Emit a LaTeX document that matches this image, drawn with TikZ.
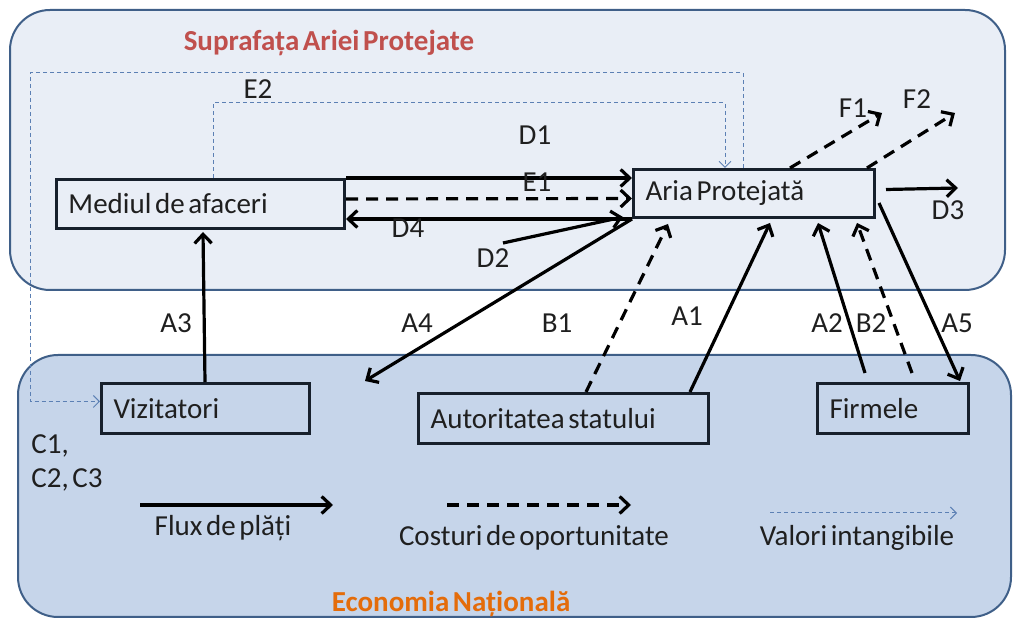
\documentclass[tikz,border=0pt]{standalone}
\usepackage{fontspec}
\setmainfont{Carlito}[WordSpace=0.55]
\usepackage{tikz}
\usetikzlibrary{positioning,arrows.meta,calc}
\usepackage{xcolor}
\definecolor{zoneTop}{HTML}{E9EEF6}
\definecolor{zoneBot}{HTML}{C6D5EA}
\definecolor{zoneLine}{HTML}{3F5F88}
\definecolor{titleRed}{HTML}{C0504D}
\definecolor{titleOrange}{HTML}{E46C0A}
\definecolor{intangBlue}{HTML}{5C80B4}
\definecolor{boxLine}{HTML}{17202C}

\begin{document}
\begin{tikzpicture}[
  x=0.5pt, y=-0.5pt,
  every node/.style = {font=\fontsize{14.5}{17}\selectfont, text=black!88},
  zone/.style = {draw=zoneLine, line width=1pt, rounded corners=20pt},
  actor/.style = {draw=boxLine, line width=1.5pt, anchor=north west,
    inner xsep=6pt, text width=#1, align=flush left, minimum height=24.5pt},
  pay/.style = {line width=1.6pt, -{Straight Barb[length=4.5pt,width=8.5pt]}},
  opp/.style = {pay, dash pattern=on 6pt off 4pt},
  intang/.style = {draw=intangBlue, line width=0.5pt, dash pattern=on 2pt off 1.5pt,
    -{Straight Barb[length=3pt,width=6pt]}},
  lbl/.style = {inner sep=1pt}
]
  \useasboundingbox (0,0) rectangle (1013,619);

  % zones
  \draw[zone, fill=zoneTop] (10,10) rectangle (1005,290);
  \draw[zone, fill=zoneBot] (18,355) rectangle (1011,617);
  \node[font=\fontsize{14.5}{17}\selectfont\bfseries, text=titleRed] (ztop) at (329,43) {Suprafața Ariei Protejate};
  \node[font=\fontsize{14.5}{17}\selectfont\bfseries, text=titleOrange] (zbot) at (451,604) {Economia Națională};

  % actors
  \node[actor=132pt] (mediul) at (55,178) {Mediul de afaceri};
  \node[actor=108.5pt, minimum height=24pt] (aria) at (632,168) {Aria Protejată};
  \node[actor=92pt, minimum height=25pt] (viz) at (100,382) {Vizitatori};
  \node[actor=133pt, minimum height=25pt] (auto) at (417,392) {Autoritatea statului};
  \node[actor=63.5pt, minimum height=25pt] (firm) at (816,382) {Firmele};

  % flows inside the protected area
  \draw[pay] (mediul.north east) -- (mediul.north east -| aria.west);
  \draw[opp] ($(mediul.east)+(0,-5)$) -- ($(aria.west)+(0,5)$);
  \draw[pay] (aria.south west) -- (aria.south west -| mediul.east);
  \coordinate (d2) at (503,243);
  \draw[pay] (d2) -- ($(aria.south west)+(-9,-2)$);
  \coordinate (d3) at (958,188);
  \draw[pay] ($(aria.east)+(10,-4)$) -- (d3);
  \coordinate (f1) at (882,113);
  \coordinate (f2) at (955,113);
  \draw[opp] ($(aria.north west)+(158,0)$) -- (f1);
  \draw[opp] ($(aria.north west)+(235,0)$) -- (f2);
  \draw[intang] ($(mediul.north west)+(158,0)$) -- ++(0,-75) -| ($(aria.north west)+(93,0)$);
  \coordinate (cbend) at (30,73);
  \draw[intang] ($(aria.north west)+(111,0)$) |- (cbend) |- ($(viz.west)+(0,-7)$);

  % flows between the two zones
  \draw[pay] ($(viz.north west)+(105,0)$) -- ($(mediul.south west)+(148,2)$);
  \coordinate (a4) at (365,381);
  \draw[pay] (aria.south west) -- (a4);
  \draw[opp] ($(auto.north west)+(169,0)$) -- ($(aria.south west)+(36,5)$);
  \draw[pay] ($(auto.north west)+(273,0)$) -- ($(aria.south west)+(138,4)$);
  \draw[pay] ($(firm.north west)+(49,-9)$) -- ($(aria.south west)+(186,4)$);
  \draw[opp] ($(firm.north west)+(96,-9)$) -- ($(aria.south west)+(225,4)$);
  \draw[pay] ($(aria.south east)+(3,-16)$) -- ($(firm.north east)+(-10,-1)$);

  % labels
  \node[lbl] (lE2) at (258,89) {E2};
  \node[lbl] (lD1) at (535,135) {D1};
  \node[lbl] (lE1) at (537,182) {E1};
  \node[lbl] (lD4) at (408,228) {D4};
  \node[lbl] (lD2) at (493,258) {D2};
  \node[lbl] (lF1) at (853,108) {F1};
  \node[lbl] (lF2) at (917,99) {F2};
  \node[lbl] (lD3) at (948,210) {D3};
  \node[lbl] (lA3) at (176,323) {A3};
  \node[lbl] (lA4) at (417,323) {A4};
  \node[lbl] (lB1) at (557,323) {B1};
  \node[lbl] (lA1) at (687,316) {A1};
  \node[lbl] (lA2) at (827,323) {A2};
  \node[lbl] (lB2) at (871,323) {B2};
  \node[lbl] (lA5) at (957,323) {A5};
  \node[lbl, align=left, anchor=north west] (lC) at (29,432) {C1,\\C2, C3};

  % legend
  \coordinate (l1a) at (140,505);
  \coordinate (l1b) at (333,505);
  \draw[pay] (l1a) -- (l1b);
  \node (lgpay) at (223,528) {Flux de plăți};
  \coordinate (l2a) at (447,505);
  \coordinate (l2b) at (631,505);
  \draw[opp] (l2a) -- (l2b);
  \node (lgopp) at (534,538) {Costuri de oportunitate};
  \coordinate (l3a) at (770,513);
  \coordinate (l3b) at (957,513);
  \draw[intang] (l3a) -- (l3b);
  \node (lgint) at (857,538) {Valori intangibile};
\end{tikzpicture}
\end{document}
